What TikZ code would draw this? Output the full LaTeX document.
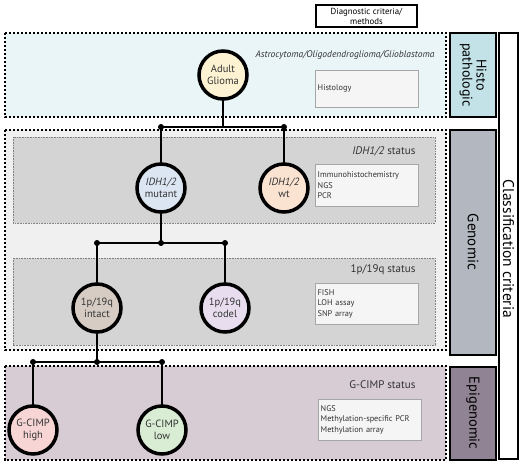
\documentclass[tikz,border=0pt]{standalone}
\usepackage{fontspec}
\setmainfont{PT Sans}
\usetikzlibrary{shadows}
\newcommand\fsz[2]{\fontsize{#1}{#2}\selectfont}
\definecolor{histofill}{HTML}{EAF5F7}
\definecolor{histolab}{HTML}{C2E2E7}
\definecolor{genofill}{HTML}{F0F0F0}
\definecolor{geninner}{HTML}{D4D4D4}
\definecolor{genolab}{HTML}{B3B8C0}
\definecolor{epifill}{HTML}{D8CCD4}
\definecolor{epilab}{HTML}{908394}
\definecolor{txt}{HTML}{333333}
\definecolor{adultc}{HTML}{FDF3D2}
\definecolor{mutc}{HTML}{DCE6F3}
\definecolor{wtc}{HTML}{FBE3D2}
\definecolor{intactc}{HTML}{D6CCC4}
\definecolor{codelc}{HTML}{E7DDEF}
\definecolor{highc}{HTML}{F7D5D5}
\definecolor{lowc}{HTML}{D8EDD3}
\begin{document}
\begin{tikzpicture}[x=1pt,y=-1pt,
    section/.style={line width=2.2pt, dash pattern=on 2.2pt off 1.8pt},
    inner/.style={draw=gray, line width=0.6pt, dash pattern=on 0.8pt off 0.8pt},
    labelbox/.style={draw, line width=1.6pt},
    glioma/.style={circle, draw, line width=3.5pt, minimum size=48pt, inner sep=0pt,
        align=center, text=txt, font=\fsz{10.5}{11.5}, drop shadow={opacity=0.25,shadow xshift=1pt,shadow yshift=-1.5pt}},
    methods/.style={draw=gray!70, fill=white!96!black, anchor=north west, minimum width=103pt,
        text width=98pt, align=left, inner sep=2.5pt, text=txt, font=\fsz{8.3}{10.5}},
    status/.style={anchor=east, text=txt, font=\fsz{11}{12}},
    link/.style={line width=2.6pt},
    junction/.style={circle, fill, inner sep=0pt, minimum size=6pt}]
    \useasboundingbox (0,0) rectangle (520,465);

    \draw[line width=1.2pt] (316,5) rectangle (417,27);
    \node[align=center, font=\fsz{8.8}{10}] (diag) at (366.5,16) {Diagnostic criteria/\\methods};

    \filldraw[section, fill=histofill] (5,33) rectangle (446,117);
    \filldraw[section, fill=genofill] (5,130) rectangle (446,350);
    \filldraw[inner, fill=geninner] (13,137) rectangle (435,223);
    \filldraw[inner, fill=geninner] (13,258) rectangle (435,345);
    \filldraw[section, fill=epifill] (5,366) rectangle (446,460);

    \filldraw[labelbox, fill=histolab] (450,33) rectangle (496,117);
    \node[rotate=-90, align=center, font=\fsz{14}{14}] (histo) at (473,75) {Histo\\pathologic};
    \filldraw[labelbox, fill=genolab] (450,130) rectangle (496,355);
    \node[rotate=-90, font=\fsz{15}{15}] (geno) at (473,242) {Genomic};
    \filldraw[labelbox, fill=epilab] (450,367) rectangle (496,460);
    \node[rotate=-90, font=\fsz{14.5}{15}] (epi) at (473,413) {Epigenomic};
    \draw[labelbox, fill=white] (499,33) rectangle (518,459);
    \node[rotate=-90, font=\fsz{15.5}{15}] (crit) at (508.5,249) {Classification criteria};

    \node[anchor=east, text=txt, font=\fsz{9.5}{10}\itshape] (types) at (438,55) {Astrocytoma/Oligodendroglioma/Glioblastoma};
    \node[status] (idhst) at (419,151) {\textit{IDH1/2} status};
    \node[status] (codst) at (419,270) {1p/19q status};
    \node[status] (gcst) at (419,385) {G-CIMP status};

    \node[methods, minimum height=37pt] (histm) at (315,70) {Histology};
    \node[methods, minimum height=42pt] (idhm) at (315,164) {Immunohistochemistry\\NGS\\PCR};
    \node[methods, minimum height=41pt] (codm) at (315,283) {FISH\\LOH assay\\SNP array};
    \node[methods, minimum height=41pt] (gcm) at (318,399) {NGS\\Methylation-specific PCR\\Methylation array};

    \coordinate (j1a) at (161,127);
    \coordinate (j1b) at (284,127);
    \coordinate (j2a) at (97,243);
    \coordinate (j2m) at (161,243);
    \coordinate (j2b) at (225,243);
    \coordinate (j3a) at (33,362);
    \coordinate (j3m) at (97,362);
    \coordinate (j3b) at (162,362);

    \draw[link] (223,75) -- (223,127);
    \draw[link] (j1a) -- (j1b);
    \draw[link] (j1a) -- (161,188);
    \draw[link] (j1b) -- (284,188);
    \draw[link] (161,188) -- (j2m);
    \draw[link] (j2a) -- (j2b);
    \draw[link] (j2a) -- (97,308);
    \draw[link] (j2b) -- (225,308);
    \draw[link] (97,308) -- (j3m);
    \draw[link] (j3a) -- (j3b);
    \draw[link] (j3a) -- (33,430);
    \draw[link] (j3b) -- (162,430);
    \foreach \j in {j1a,j1b,j2a,j2m,j2b,j3a,j3m,j3b}
        \node[junction] at (\j) {};

    \node[glioma, fill=adultc] (adult) at (223,75) {Adult\\Glioma};
    \node[glioma, fill=mutc] (mut) at (161,188) {\textit{IDH1/2}\\mutant};
    \node[glioma, fill=wtc] (wt) at (284,188) {\textit{IDH1/2}\\wt};
    \node[glioma, fill=intactc] (intact) at (97,308) {1p/19q\\intact};
    \node[glioma, fill=codelc] (codel) at (225,308) {1p/19q\\codel};
    \node[glioma, fill=highc] (high) at (33,430) {G-CIMP\\high};
    \node[glioma, fill=lowc] (low) at (162,430) {G-CIMP\\low};
\end{tikzpicture}
\end{document}
